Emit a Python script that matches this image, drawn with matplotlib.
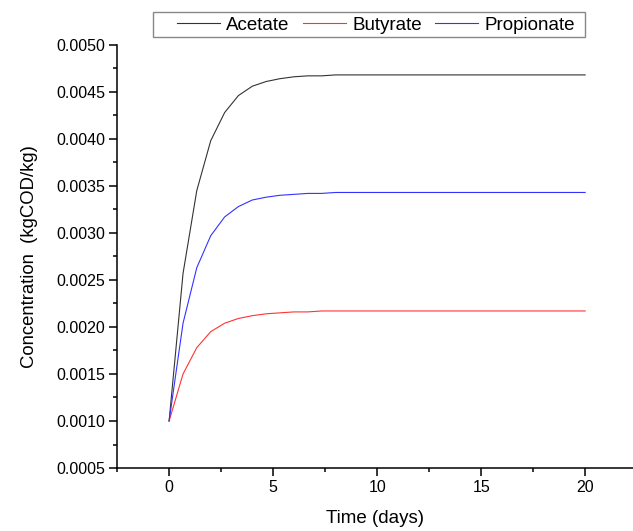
import matplotlib
matplotlib.use('Agg')
from matplotlib import pyplot as plt
from matplotlib.patches import Rectangle
from matplotlib.ticker import MultipleLocator, FormatStrFormatter

plt.rcParams['font.family'] = ['Liberation Sans', 'DejaVu Sans']

# time (days) and concentration (kgCOD/kg)
days = [0, 0.67, 1.33, 2, 2.67, 3.33, 4, 4.67, 5.33, 6, 6.67, 7.33, 8, 9, 10, 12, 14, 16, 18, 20]
acetate = [0.00100, 0.00257, 0.00345, 0.00398, 0.00428, 0.00446, 0.00456, 0.00461, 0.00464, 0.00466,
           0.00467, 0.00467, 0.00468, 0.00468, 0.00468, 0.00468, 0.00468, 0.00468, 0.00468, 0.00468]
butyrate = [0.00100, 0.00150, 0.00178, 0.00195, 0.00204, 0.00209, 0.00212, 0.00214, 0.00215, 0.00216,
            0.00216, 0.00217, 0.00217, 0.00217, 0.00217, 0.00217, 0.00217, 0.00217, 0.00217, 0.00217]
propionate = [0.00100, 0.00204, 0.00263, 0.00297, 0.00317, 0.00328, 0.00335, 0.00338, 0.00340, 0.00341,
              0.00342, 0.00342, 0.00343, 0.00343, 0.00343, 0.00343, 0.00343, 0.00343, 0.00343, 0.00343]

fig = plt.figure(figsize=(6.33, 5.31), dpi=100)
ax = fig.add_axes([0.185, 0.1186, 0.815, 0.797])

ax.plot(days, acetate, color='#333333', lw=0.8, label='Acetate')
ax.plot(days, butyrate, color='#ff3333', lw=0.8, label='Butyrate')
ax.plot(days, propionate, color='#3333ff', lw=0.8, label='Propionate')

ax.set_xlim(-2.5, 22.3)
ax.set_ylim(0.0005, 0.0050)
ax.xaxis.set_major_locator(MultipleLocator(5))
ax.xaxis.set_minor_locator(MultipleLocator(2.5))
ax.yaxis.set_major_locator(MultipleLocator(0.0005))
ax.yaxis.set_minor_locator(MultipleLocator(0.00025))
ax.yaxis.set_major_formatter(FormatStrFormatter('%.4f'))

for s in ['top', 'right']:
    ax.spines[s].set_visible(False)
for s in ['left', 'bottom']:
    ax.spines[s].set_linewidth(1.1)
ax.tick_params(which='major', direction='out', length=5.5, width=1.1, labelsize=11.5, pad=3)
ax.tick_params(which='minor', direction='out', length=3, width=1.1)

ax.set_xlabel('Time (days)', fontsize=13.5, labelpad=11)
ax.set_ylabel('Concentration  (kgCOD/kg)', fontsize=13.3, labelpad=13)

# legend: frameless entries inside a plain grey box
leg = fig.legend(loc='center left', bbox_to_anchor=(177 / 633, 1 - 25.5 / 531),
                 ncol=3, fontsize=13.5, frameon=False,
                 handlelength=2.3, handletextpad=0.32, columnspacing=0.72,
                 borderpad=0, borderaxespad=0)
fig.add_artist(Rectangle((153 / 633, 1 - 37 / 531), 432 / 633, 25 / 531,
                         transform=fig.transFigure, fill=False,
                         edgecolor='#888888', lw=1.0))

plt.savefig('out.png', dpi=100)
